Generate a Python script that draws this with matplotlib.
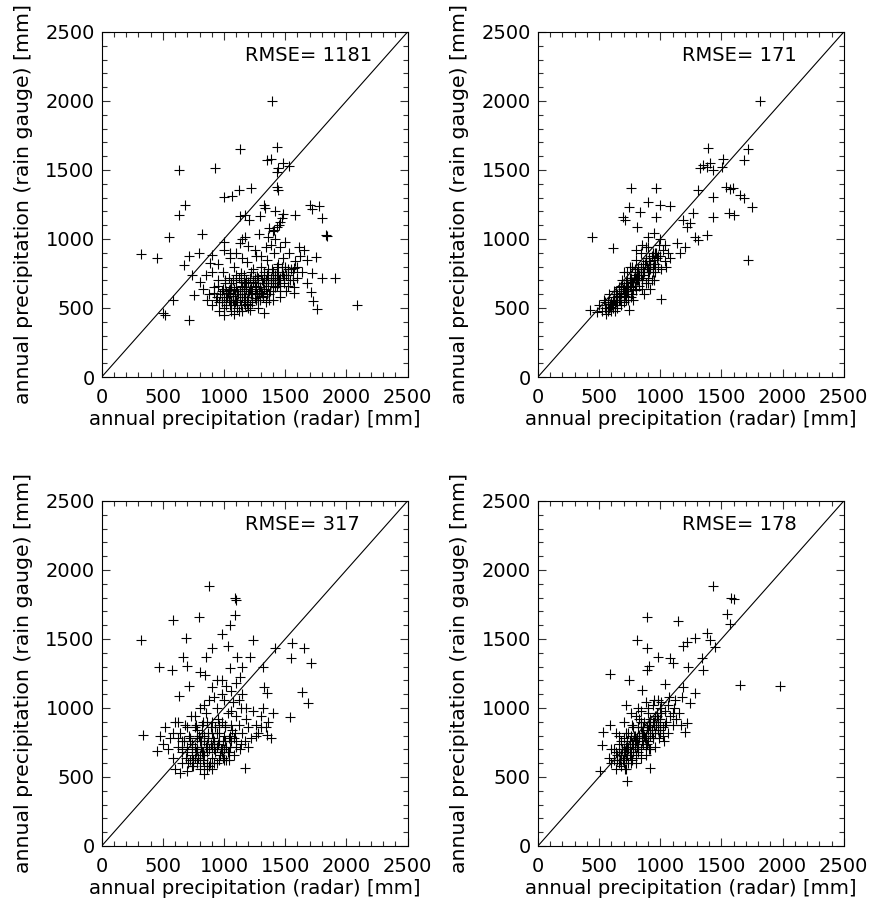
import numpy as np
import matplotlib
matplotlib.use('Agg')
import matplotlib.pyplot as plt
from matplotlib.ticker import MultipleLocator

# ---- panel 1 (RMSE 1181): radar vs rain gauge, mm ----
radar_1 = [1393, 1134, 1437, 628, 923, 1352, 1380, 1442, 1483, 1530, 1429, 1224, 997, 1065, 1120,
           1434, 1442, 683, 636, 554, 819, 319, 451, 1325, 1338, 1297, 1175, 1202, 1134, 1702,
           1776, 1721, 1803, 1584, 1475, 1461, 1830, 1838, 1434, 1412, 1358, 1284, 997, 1134, 1175,
           1904, 1803, 1721, 1707, 1729, 1756, 2084, 710, 505, 519, 587, 751, 737, 669, 710,
           792, 888, 901, 1052, 1571, 1612, 1653, 1748, 1680, 1571, 1680, 1325, 1216,
           800, 830, 860, 880, 900, 920, 940, 950, 960, 980, 990, 1000, 1010, 1020, 1030,
           1040, 1050, 1060, 1070, 1080, 1090, 1100, 1110, 1120, 1130, 1140, 1150, 1160, 1170, 1180,
           1190, 1200, 1210, 1220, 1230, 1240, 1250, 1260, 1270, 1280, 1290, 1300, 1310, 1320, 1330,
           1340, 1350, 1360, 1370, 1380, 1390, 1400, 1410, 1420, 1430, 1440, 1450, 1460, 1470, 1480,
           1490, 1500, 1510, 1520, 1530, 1540, 1550, 1570, 1580, 1600, 1620, 1640,
           1050, 1080, 1100, 1120, 1150, 1180, 1200, 1230, 1250, 1280, 1100, 1140, 1190, 1220, 1260,
           1300, 1040, 1070, 1160, 1240, 1320, 1350, 1380, 1420, 1460, 1000, 1020, 1060, 1090, 1130,
           1170, 1210, 1270, 1330, 1360, 1400, 1440, 1480, 1520, 1560, 1600, 1440, 1400, 1360, 1300,
           1260, 1210, 1160, 1110, 1060, 960, 1000, 1080, 1150, 1200, 1280, 1340, 1400, 1460, 1520,
           1560, 1100, 1150, 1200, 1250, 1300, 1340, 1380, 1420, 1460, 1500, 1150, 1050, 1000, 950,
           900, 850, 1400, 1450, 1480, 1420, 1370,
           920, 950, 980, 1010, 1040, 1070, 1100, 1130, 1160, 1190, 1220, 1250, 1280, 1310, 1340,
           1370, 1400, 1430, 1460, 1490, 935, 965, 995, 1025, 1055, 1085, 1115, 1145, 1175, 1205,
           1235, 1265, 1295, 1325, 1355, 1385, 1415, 1445, 1475, 1505, 1015, 1075, 1135, 1195, 1255,
           1315, 1375, 1435, 1045, 1105, 1165, 1225, 1285, 1345]
gauge_1 = [2003, 1650, 1665, 1500, 1517, 1573, 1578, 1512, 1553, 1530, 1488, 1368, 1307, 1312, 1355,
           1380, 1355, 1247, 1174, 1017, 1034, 892, 860, 1247, 1223, 1167, 1174, 1138, 1167, 1247,
           1240, 1215, 1150, 1174, 1150, 1126, 1030, 1022, 1090, 1066, 1017, 1037, 981, 969, 1017,
           720, 720, 752, 619, 554, 493, 522, 414, 467, 450, 559, 595, 740, 812, 877,
           897, 824, 884, 897, 788, 945, 921, 872, 848, 607, 679, 462, 486,
           690, 640, 560, 600, 520, 650, 580, 700, 540, 620, 760, 500, 680, 560, 610,
           720, 520, 650, 590, 800, 540, 700, 620, 480, 560, 750, 660, 600, 520, 700,
           830, 580, 640, 760, 540, 690, 610, 880, 730, 560, 650, 800, 700, 590, 760,
           640, 850, 720, 560, 680, 780, 620, 900, 740, 660, 820, 700, 580, 760, 860,
           680, 800, 620, 740, 900, 700, 780, 650, 840, 720, 880, 760,
           600, 640, 560, 720, 580, 640, 690, 620, 720, 680, 650, 690, 560, 600, 640,
           620, 560, 700, 740, 780, 680, 740, 720, 700, 720, 580, 620, 540, 600, 620,
           680, 720, 600, 640, 780, 760, 760, 740, 780, 760, 800, 680, 680, 660, 740,
           560, 520, 540, 500, 480, 480, 450, 460, 480, 500, 500, 540, 560, 620, 660,
           700, 900, 860, 950, 920, 880, 940, 960, 1000, 940, 980, 1000, 860, 920, 820,
           760, 740, 1060, 1100, 1180, 1200, 1080,
           610, 660, 540, 700, 630, 560, 740, 600, 690, 530, 650, 570, 720, 610, 680,
           600, 700, 740, 660, 720, 560, 600, 640, 580, 680, 520, 600, 650, 580, 620,
           700, 660, 560, 720, 600, 700, 650, 700, 800, 740, 520, 560, 520, 600, 680,
           580, 620, 800, 640, 540, 640, 560, 620, 700]

# ---- panel 2 (RMSE 171) ----
radar_2 = [1817, 1388, 1716, 1681, 1511, 1407, 1353, 1326, 1380, 1429, 1503, 1539, 1566, 1593, 1653,
           1681, 1749, 1435, 1312, 1429, 1558, 1599, 1716, 757, 965, 746, 902, 998, 1080, 697,
           711, 834, 965, 806, 902, 438, 610, 1271, 1189, 1244, 1216, 1380, 1284, 1312, 1203,
           1134, 1162, 1006, 779, 746, 424,
           480, 500, 520, 540, 550, 560, 570, 580, 590, 600, 610, 620, 630, 640, 650,
           660, 670, 680, 690, 700, 700, 710, 720, 730, 740, 740, 750, 760, 770, 770,
           780, 790, 800, 800, 810, 820, 830, 840, 840, 850, 860, 870, 880, 880, 890,
           900, 910, 920, 930, 940, 950, 960, 970, 980, 990, 1000, 1010, 1020, 1040, 1060,
           1080, 600, 620, 650, 660, 680, 700, 720, 730, 750, 760, 780, 790, 810, 820,
           840, 860, 880, 900, 920, 940, 960, 680, 720, 760, 800, 850, 900, 950, 580,
           630, 550, 610, 700, 750, 800, 850, 900, 960, 1000, 1040, 950, 1050, 920, 870,
           560, 590, 620, 650, 680, 710, 740, 770, 800, 830, 860, 890, 920, 950, 980,
           575, 605, 635, 665, 695, 725, 755, 785, 815, 845, 875, 905, 935, 965,
           640, 700, 760, 820, 880, 940, 670, 730, 790, 850, 910]
gauge_2 = [2002, 1657, 1652, 1572, 1577, 1553, 1536, 1512, 1519, 1500, 1519, 1379, 1360, 1367, 1319,
           1295, 1234, 1302, 1355, 1162, 1191, 1174, 848, 1367, 1367, 1234, 1270, 1246, 1239, 1162,
           1138, 1198, 1162, 1089, 1017, 1017, 932, 1186, 1138, 1114, 1089, 1029, 1017, 993, 944,
           969, 896, 565, 558, 486, 486,
           470, 520, 480, 560, 500, 460, 540, 600, 510, 480, 560, 620, 520, 580, 500,
           650, 560, 610, 700, 540, 640, 590, 680, 760, 620, 560, 720, 650, 800, 600,
           690, 740, 850, 630, 700, 780, 660, 900, 740, 700, 820, 760, 680, 940, 800,
           720, 860, 780, 700, 900, 820, 760, 860, 800, 960, 880, 780, 920, 840, 900,
           860, 540, 580, 600, 560, 660, 600, 620, 700, 660, 700, 640, 780, 760, 700,
           800, 740, 860, 780, 820, 760, 820, 520, 560, 580, 720, 640, 680, 700, 500,
           480, 540, 500, 760, 800, 920, 960, 940, 900, 1000, 960, 1040, 800, 640, 600,
           500, 530, 560, 560, 600, 620, 660, 690, 700, 740, 760, 800, 820, 850, 880,
           480, 520, 540, 590, 640, 650, 700, 720, 760, 780, 820, 840, 880, 900,
           620, 660, 720, 780, 840, 800, 580, 620, 660, 700, 760]

# ---- panel 3 (RMSE 317) ----
radar_3 = [874, 1093, 1101, 792, 582, 1093, 1052, 983, 319, 691, 1237, 901, 1030, 664, 855,
           1106, 1210, 1420, 1557, 1653, 1549, 1713, 472, 573, 696, 806, 1052, 1147, 1319, 710,
           628, 1639, 1685, 1538, 1352, 1325, 847, 942, 1133, 341, 451, 642, 1174, 1352,
           480, 500, 520, 540, 560, 580, 600, 600, 620, 640, 660, 660, 680, 700, 700,
           710, 720, 730, 740, 750, 760, 770, 780, 790, 800, 800, 810, 820, 830, 840,
           840, 850, 860, 870, 880, 880, 890, 900, 900, 910, 920, 930, 940, 940, 950,
           960, 970, 980, 980, 990, 1000, 1010, 1020, 1030, 1040, 1050, 1060, 1070, 1080, 1090,
           1100, 1100, 1120, 1130, 1140, 1150, 1170, 1180, 1200, 1220, 1240, 1260, 1280, 1300, 1320,
           1340, 1360, 1380, 1400,
           760, 780, 800, 820, 840, 860, 880, 900, 920, 940, 960, 980, 820, 780, 740,
           860, 900, 960, 1000, 1040, 860, 800, 700, 660, 620, 580, 620, 700, 760, 840,
           920, 1000, 1060, 1120, 1180, 1000, 840, 780, 720, 1060, 1140, 1200, 1260, 1300, 1060,
           980, 900, 1020, 1100, 1150,
           660, 690, 720, 750, 780, 810, 840, 870, 900, 930, 960, 990, 1020, 1050, 1080,
           675, 705, 735, 765, 795, 825, 855, 885, 915, 945, 975, 1005, 1035, 1065, 1095,
           740, 800, 860, 920, 980, 1040, 770, 830, 890, 950, 1010]
gauge_3 = [1884, 1794, 1782, 1661, 1637, 1674, 1601, 1536, 1492, 1504, 1492, 1432, 1449, 1372, 1367,
           1372, 1367, 1432, 1473, 1432, 1360, 1328, 1294, 1275, 1304, 1263, 1287, 1299, 1299, 1159,
           1087, 1118, 1038, 937, 1106, 1154, 1239, 1203, 1227, 804, 691, 531, 563, 804,
           800, 740, 860, 700, 780, 640, 900, 560, 720, 820, 600, 760, 880, 680, 540,
           800, 620, 940, 740, 580, 860, 680, 780, 640, 1000, 560, 720, 880, 620, 760,
           520, 960, 680, 820, 580, 1060, 740, 900, 640, 780, 700, 860, 600, 1000, 740,
           820, 660, 900, 1100, 760, 700, 860, 620, 960, 780, 720, 880, 1040, 660, 820,
           760, 940, 880, 700, 1000, 820, 760, 920, 860, 780, 980, 880, 820, 940, 1000,
           860, 900, 780, 960,
           720, 700, 760, 680, 800, 740, 700, 820, 760, 720, 880, 700, 820, 840, 660,
           600, 560, 620, 800, 680, 900, 660, 720, 680, 780, 820, 900, 860, 940, 1020,
           1080, 1060, 980, 1060, 1000, 620, 580, 600, 760, 760, 740, 720, 800, 860, 1120,
           1200, 1150, 1160, 1180, 1100,
           700, 640, 780, 620, 700, 760, 660, 780, 720, 680, 760, 640, 720, 800, 780,
           760, 600, 700, 640, 800, 680, 720, 600, 740, 820, 700, 760, 680, 840, 720,
           580, 620, 560, 600, 680, 620, 880, 900, 860, 920, 880]

# ---- panel 4 (RMSE 178) ----
radar_4 = [1429, 1577, 1599, 894, 1148, 1544, 1566, 1380, 1407, 1448, 1285, 806, 894, 1189, 1216,
           1339, 984, 1080, 1107, 1230, 1353, 910, 888, 593, 746, 1653, 1981, 1285, 1243, 1175,
           1189, 1039, 847, 724, 588, 533, 520, 1222, 1202, 916, 730, 506,
           580, 600, 620, 640, 650, 660, 670, 680, 690, 700, 700, 710, 720, 730, 740,
           740, 750, 760, 770, 770, 780, 790, 800, 800, 810, 820, 830, 840, 840, 850,
           860, 870, 880, 880, 890, 900, 900, 910, 920, 930, 940, 950, 950, 960, 970,
           980, 990, 1000, 1010, 1020, 1030, 1040, 1050, 1060, 1070, 1080, 1100, 1110, 1130, 1150,
           1170,
           620, 640, 660, 680, 700, 720, 730, 750, 760, 780, 790, 810, 820, 830, 850,
           860, 870, 890, 900, 920, 940, 960, 980, 1000, 1020, 720, 760, 800, 840, 880,
           920, 960, 1000, 1040, 680, 660, 720, 780, 840, 900, 940, 980, 1060, 1100, 1120,
           760, 820, 880, 700, 640, 600,
           650, 680, 710, 740, 770, 800, 830, 860, 890, 920, 950, 980, 1010,
           665, 695, 725, 755, 785, 815, 845, 875, 905, 935, 965, 995,
           700, 760, 820, 880, 940, 1000, 730, 790, 850, 910, 970]
gauge_4 = [1884, 1794, 1787, 1661, 1630, 1681, 1608, 1541, 1492, 1444, 1504, 1492, 1432, 1449, 1480,
           1360, 1372, 1360, 1328, 1299, 1275, 1304, 1275, 1244, 1203, 1166, 1159, 1106, 1034, 1082,
           1154, 1174, 1130, 1022, 877, 828, 732, 889, 828, 563, 473, 546,
           640, 600, 700, 560, 660, 740, 620, 580, 700, 780, 640, 560, 720, 660, 820,
           600, 760, 680, 880, 620, 740, 800, 660, 940, 720, 860, 780, 700, 980, 820,
           740, 900, 800, 660, 860, 1000, 760, 700, 920, 840, 780, 1060, 880, 720, 960,
           840, 780, 920, 1040, 860, 760, 980, 900, 820, 1080, 940, 880, 1000, 920, 960,
           880,
           620, 680, 600, 660, 700, 640, 760, 700, 800, 680, 720, 780, 700, 920, 760,
           860, 800, 740, 840, 800, 900, 820, 900, 860, 800, 560, 600, 600, 640, 720,
           700, 940, 1000, 880, 760, 800, 820, 860, 900, 960, 1020, 1060, 1020, 960, 1060,
           960, 1000, 1040, 900, 820, 700,
           620, 660, 680, 700, 740, 760, 800, 820, 860, 860, 900, 920, 960,
           680, 620, 740, 660, 800, 740, 860, 780, 900, 820, 880, 840,
           600, 640, 680, 760, 780, 820, 720, 780, 820, 880, 940]

rmse = [1181, 171, 317, 178]
xlabel = 'annual precipitation (radar) [mm]'
ylabel = 'annual precipitation (rain gauge) [mm]'

plt.rcParams['font.family'] = 'DejaVu Sans'
plt.rcParams['font.size'] = 14

fig = plt.figure(figsize=(8.69, 9.08), dpi=100)

# axes boxes in figure fraction [left, bottom, width, height]
boxes = [[0.117, 0.5848, 0.352, 0.380],
         [0.619, 0.5848, 0.352, 0.380],
         [0.117, 0.0683, 0.352, 0.380],
         [0.619, 0.0683, 0.352, 0.380]]
data = [(radar_1, gauge_1), (radar_2, gauge_2), (radar_3, gauge_3), (radar_4, gauge_4)]


def scatter_panel(ax, x, y, err):
    ax.plot(x, y, '+', color='black', markersize=7.5, markeredgewidth=0.8)
    ax.plot([0, 2500], [0, 2500], '-', color='black', lw=0.8)
    ax.text(1175, 2330, 'RMSE= %d' % err, fontsize=14, va='center', ha='left')

    ax.set_xlim(0, 2500)
    ax.set_ylim(0, 2500)
    ax.xaxis.set_major_locator(MultipleLocator(500))
    ax.yaxis.set_major_locator(MultipleLocator(500))
    ax.xaxis.set_minor_locator(MultipleLocator(100))
    ax.yaxis.set_minor_locator(MultipleLocator(100))
    ax.tick_params(which='both', direction='in', top=True, right=True, width=0.8, color='#333333',
                   labelsize=14)
    ax.tick_params(which='major', length=6)
    ax.tick_params(which='minor', length=3.5)
    ax.tick_params(axis='x', which='major', pad=8)
    ax.tick_params(axis='y', which='major', pad=5)
    for s in ax.spines.values():
        s.set_linewidth(0.8)
    ax.set_xlabel(xlabel, fontsize=14.2, labelpad=2)
    ax.set_ylabel(ylabel, fontsize=14.7, labelpad=9)


for box, (x, y), err in zip(boxes, data, rmse):
    ax = fig.add_axes(box)
    scatter_panel(ax, x, y, err)

plt.savefig('out.png', dpi=100)
